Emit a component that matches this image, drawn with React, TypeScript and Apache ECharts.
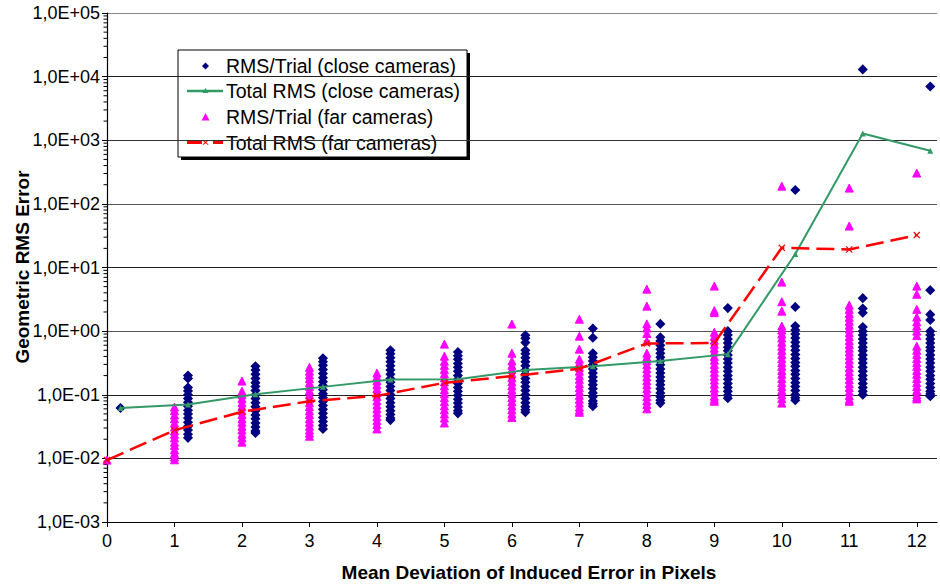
import { useEffect, useRef } from "react";
import * as echarts from "echarts";

// Mean deviation of the induced error (pixels)
const deviations = [0, 1, 2, 3, 4, 5, 6, 7, 8, 9, 10, 11, 12];
// close-camera results are plotted slightly to the right of each deviation
const closeOffset = 0.2;

// RMS error of every trial, close cameras (one list per deviation)
const closeTrials: number[][] = [
  [0.062],
  [0.2, 0.18, 0.13, 0.115, 0.1, 0.087, 0.076, 0.066, 0.057, 0.05, 0.043, 0.037, 0.032, 0.028, 0.024, 0.021],
  [0.28, 0.245, 0.21, 0.18, 0.155, 0.135, 0.117, 0.1, 0.087, 0.075, 0.065, 0.056, 0.048, 0.042, 0.036, 0.031, 0.027, 0.025],
  [0.375, 0.33, 0.29, 0.25, 0.215, 0.185, 0.16, 0.14, 0.12, 0.104, 0.09, 0.078, 0.068, 0.059, 0.051, 0.044, 0.038, 0.033, 0.029],
  [0.5, 0.44, 0.38, 0.33, 0.285, 0.245, 0.21, 0.18, 0.157, 0.135, 0.117, 0.1, 0.087, 0.075, 0.065, 0.056, 0.049, 0.043, 0.04],
  [0.47, 0.41, 0.36, 0.31, 0.27, 0.235, 0.2, 0.175, 0.15, 0.13, 0.113, 0.098, 0.085, 0.074, 0.064, 0.056, 0.051],
  [0.86, 0.77, 0.66, 0.5, 0.44, 0.38, 0.33, 0.285, 0.245, 0.21, 0.18, 0.157, 0.135, 0.117, 0.1, 0.087, 0.075, 0.065, 0.058, 0.053],
  [1.1, 0.785, 0.45, 0.39, 0.34, 0.295, 0.255, 0.22, 0.19, 0.165, 0.143, 0.124, 0.107, 0.093, 0.08, 0.072, 0.066],
  [1.3, 0.8, 0.7, 0.6, 0.52, 0.45, 0.39, 0.34, 0.295, 0.255, 0.22, 0.19, 0.165, 0.143, 0.124, 0.107, 0.093, 0.082, 0.074],
  [2.3, 1.0, 0.87, 0.75, 0.65, 0.56, 0.49, 0.42, 0.365, 0.315, 0.27, 0.235, 0.2, 0.175, 0.15, 0.13, 0.113, 0.098, 0.088],
  [165, 2.4, 1.2, 1.04, 0.9, 0.78, 0.67, 0.58, 0.5, 0.43, 0.37, 0.32, 0.28, 0.24, 0.21, 0.18, 0.155, 0.135, 0.117, 0.1, 0.09, 0.082],
  [13000, 3.3, 2.27, 1.94, 1.16, 1.0, 0.87, 0.75, 0.65, 0.56, 0.49, 0.42, 0.365, 0.315, 0.27, 0.235, 0.2, 0.175, 0.15, 0.13, 0.113, 0.1],
  [7000, 4.4, 1.83, 1.5, 1.0, 0.87, 0.75, 0.65, 0.56, 0.49, 0.42, 0.365, 0.315, 0.27, 0.235, 0.2, 0.175, 0.15, 0.13, 0.113, 0.103, 0.095],
];

// RMS error of every trial, far cameras
const farTrials: number[][] = [
  [0.0094],
  [0.064, 0.056, 0.048, 0.042, 0.036, 0.031, 0.027, 0.024, 0.021, 0.018, 0.016, 0.0137, 0.012, 0.0105, 0.0095],
  [0.164, 0.114, 0.1, 0.087, 0.075, 0.065, 0.056, 0.049, 0.042, 0.037, 0.032, 0.028, 0.024, 0.021, 0.018],
  [0.27, 0.235, 0.205, 0.18, 0.155, 0.135, 0.117, 0.1, 0.087, 0.075, 0.065, 0.056, 0.049, 0.042, 0.037, 0.032, 0.028, 0.025, 0.0223],
  [0.219, 0.19, 0.165, 0.143, 0.124, 0.107, 0.093, 0.08, 0.069, 0.06, 0.052, 0.045, 0.039, 0.034, 0.029],
  [0.625, 0.404, 0.337, 0.29, 0.25, 0.215, 0.185, 0.16, 0.138, 0.12, 0.104, 0.09, 0.078, 0.067, 0.058, 0.05, 0.043, 0.036],
  [1.29, 0.45, 0.34, 0.29, 0.25, 0.215, 0.185, 0.16, 0.138, 0.12, 0.104, 0.09, 0.078, 0.067, 0.058, 0.05, 0.044],
  [1.54, 0.834, 0.521, 0.363, 0.315, 0.27, 0.235, 0.2, 0.175, 0.15, 0.13, 0.113, 0.098, 0.085, 0.074, 0.064, 0.057, 0.053],
  [4.57, 2.47, 1.3, 1.12, 0.92, 0.7, 0.45, 0.39, 0.34, 0.295, 0.255, 0.22, 0.19, 0.165, 0.143, 0.124, 0.107, 0.093, 0.08, 0.07, 0.06],
  [5.1, 2.1, 1.95, 0.96, 0.83, 0.72, 0.62, 0.54, 0.47, 0.4, 0.35, 0.3, 0.26, 0.225, 0.195, 0.17, 0.147, 0.127, 0.11, 0.095, 0.085, 0.079],
  [190, 5.9, 2.9, 2.06, 1.2, 1.04, 0.9, 0.78, 0.67, 0.58, 0.5, 0.43, 0.37, 0.32, 0.28, 0.24, 0.21, 0.18, 0.155, 0.135, 0.117, 0.1, 0.087, 0.074],
  [177, 44.8, 2.56, 2.2, 1.9, 1.65, 1.43, 1.24, 1.08, 0.94, 0.82, 0.71, 0.62, 0.54, 0.47, 0.41, 0.355, 0.31, 0.265, 0.23, 0.2, 0.173, 0.15, 0.13, 0.112, 0.097, 0.085, 0.079],
  [305, 5.1, 3.8, 2.2, 1.66, 1.4, 1.2, 1.0, 0.85, 0.58, 0.5, 0.43, 0.37, 0.32, 0.28, 0.24, 0.21, 0.18, 0.155, 0.135, 0.117, 0.1, 0.092, 0.086],
];

// Total RMS over all trials
const totalRmsClose = [0.062, 0.07, 0.102, 0.133, 0.174, 0.175, 0.244, 0.28, 0.34, 0.435, 16.3, 1280, 684];
const totalRmsFar = [0.0094, 0.0277, 0.054, 0.079, 0.096, 0.154, 0.196, 0.256, 0.64, 0.65, 20.4, 19.2, 32.3];

// y axis decades and their labels
const yTickValues = [1e-3, 1e-2, 1e-1, 1e0, 1e1, 1e2, 1e3, 1e4, 1e5];
const yTickLabels = ["1,0E-03", "1,0E-02", "1,0E-01", "1,0E+00", "1,0E+01", "1,0E+02", "1,0E+03", "1,0E+04", "1,0E+05"];
const yMinorFactors = [2, 3, 4, 5, 6, 7, 8, 9];

const seriesNames = [
  "RMS/Trial (close cameras)",
  "Total RMS (close cameras)",
  "RMS/Trial (far cameras)",
  "Total RMS (far cameras)",
];

const FONT = '"Liberation Sans", Arial, Helvetica, sans-serif';
const NAVY = "#000080";
const MAGENTA = "#FF00FF";
const GREEN = "#339966";
const RED = "#FF0000";
const CROSS = "path://M0,1.2L1.2,0L5,3.8L8.8,0L10,1.2L6.2,5L10,8.8L8.8,10L5,6.2L1.2,10L0,8.8L3.8,5Z";

export default function App() {
  const ref = useRef<HTMLDivElement>(null);

  useEffect(() => {
    if (!ref.current) return;
    const chart = echarts.init(ref.current, null, { renderer: "svg" });

    const closePoints: number[][] = [];
    closeTrials.forEach((col, i) => col.forEach((v) => closePoints.push([deviations[i] + closeOffset, v])));
    const farPoints: number[][] = [];
    farTrials.forEach((col, i) => col.forEach((v) => farPoints.push([deviations[i], v])));
    const closeLine = totalRmsClose.map((v, i) => [deviations[i] + closeOffset, v]);
    const farLine = totalRmsFar.map((v, i) => [deviations[i], v]);

    // minor ticks of the log axis at 2..9 of each decade
    const yMinor: number[][] = [];
    yTickValues.slice(0, -1).forEach((d) => yMinorFactors.forEach((f) => yMinor.push([0, d * f])));

    const gridLineColors = ["#000", "#222", "#222", "#555", "#222", "#555", "#333", "#222", "#888"];

    // legend box
    const lx = 178, ly = 50, lw = 289, lh = 107;
    const rows = [66, 91, 117, 142.5];
    const mx = 205.5;
    const legendText = (i: number) => ({
      type: "text",
      style: {
        text: seriesNames[i],
        x: 226,
        y: rows[i],
        font: `19.5px ${FONT}`,
        fill: "#000",
        verticalAlign: "middle",
        textVerticalAlign: "middle",
      },
    });

    chart.setOption({
      animation: false,
      backgroundColor: "#fff",
      grid: { left: 107, right: 3, top: 13, bottom: 63, containLabel: false },
      xAxis: {
        type: "value",
        min: 0,
        max: 12.3,
        interval: 1,
        axisLine: { show: true, lineStyle: { color: "#000", width: 1 } },
        axisTick: { show: true, length: 5, inside: false, customValues: deviations, lineStyle: { color: "#000" } },
        axisLabel: {
          customValues: deviations,
          fontFamily: FONT,
          fontSize: 18,
          color: "#000",
          margin: 10,
        },
        splitLine: { show: false },
      },
      yAxis: {
        type: "log",
        logBase: 10,
        min: 1e-3,
        max: 1e5,
        interval: 1,
        axisLine: { show: true, lineStyle: { color: "#000", width: 1.2 } },
        axisTick: { show: true, length: 5, inside: false, lineStyle: { color: "#000" } },
        axisLabel: {
          fontFamily: FONT,
          fontSize: 18,
          color: "#000",
          margin: 7,
          formatter: (v: number) => {
            const i = Math.round(Math.log10(v)) + 3;
            return yTickLabels[i] ?? "";
          },
        },
        splitLine: { show: true, lineStyle: { color: gridLineColors, width: 1 } },
      },
      series: [
        {
          type: "custom",
          data: yMinor,
          clip: false,
          silent: true,
          encode: { x: 0, y: 1 },
          renderItem: (_params: any, api: any) => {
            const p = api.coord([0, api.value(1)]);
            return {
              type: "line",
              shape: { x1: p[0] - 3.5, y1: p[1], x2: p[0], y2: p[1] },
              style: { stroke: "#000", lineWidth: 1 },
            };
          },
          z: 1,
        },
        {
          name: seriesNames[0],
          type: "scatter",
          data: closePoints,
          symbol: "diamond",
          symbolSize: 8,
          itemStyle: { color: NAVY, borderColor: NAVY, borderWidth: 1.5, opacity: 1 },
          z: 2,
        },
        {
          name: seriesNames[2],
          type: "scatter",
          data: farPoints,
          symbol: "triangle",
          symbolSize: 8,
          itemStyle: { color: MAGENTA, borderColor: MAGENTA, borderWidth: 1, opacity: 1 },
          z: 2,
        },
        {
          name: seriesNames[1],
          type: "line",
          data: closeLine,
          symbol: "triangle",
          symbolSize: 6,
          showAllSymbol: true,
          lineStyle: { color: GREEN, width: 2 },
          itemStyle: { color: GREEN },
          z: 3,
        },
        {
          name: seriesNames[3],
          type: "line",
          data: farLine,
          symbol: CROSS,
          symbolSize: 7,
          showAllSymbol: true,
          lineStyle: { color: RED, width: 2.5, type: [18, 7] },
          itemStyle: { color: RED },
          z: 4,
        },
      ],
      graphic: [
        {
          type: "text",
          x: 22,
          y: 267,
          rotation: Math.PI / 2,
          style: {
            text: "Geometric RMS Error",
            font: `bold 19px ${FONT}`,
            fill: "#000",
            align: "center",
            verticalAlign: "middle",
            textAlign: "center",
            textVerticalAlign: "middle",
          },
        },
        {
          type: "text",
          x: 529,
          y: 572,
          style: {
            text: "Mean Deviation of Induced Error in Pixels",
            font: `bold 19px ${FONT}`,
            fill: "#000",
            align: "center",
            verticalAlign: "middle",
            textAlign: "center",
            textVerticalAlign: "middle",
          },
        },
        {
          type: "group",
          z: 100,
          children: [
            { type: "rect", shape: { x: lx + 3, y: ly + 3, width: lw, height: lh }, style: { fill: "#000" } },
            { type: "rect", shape: { x: lx, y: ly, width: lw, height: lh }, style: { fill: "#fff", stroke: "#000", lineWidth: 1 } },
            {
              type: "polygon",
              shape: { points: [[mx, rows[0] - 3.5], [mx + 3.5, rows[0]], [mx, rows[0] + 3.5], [mx - 3.5, rows[0]]] },
              style: { fill: NAVY },
            },
            legendText(0),
            { type: "line", shape: { x1: 187, y1: rows[1], x2: 223, y2: rows[1] }, style: { stroke: GREEN, lineWidth: 2.5 } },
            {
              type: "polygon",
              shape: { points: [[mx, rows[1] - 3], [mx + 3, rows[1] + 2], [mx - 3, rows[1] + 2]] },
              style: { fill: GREEN },
            },
            legendText(1),
            {
              type: "polygon",
              shape: { points: [[mx, rows[2] - 4], [mx + 4, rows[2] + 3.5], [mx - 4, rows[2] + 3.5]] },
              style: { fill: MAGENTA },
            },
            legendText(2),
            { type: "line", shape: { x1: 187, y1: rows[3], x2: 202, y2: rows[3] }, style: { stroke: RED, lineWidth: 3 } },
            { type: "line", shape: { x1: 213, y1: rows[3], x2: 223, y2: rows[3] }, style: { stroke: RED, lineWidth: 3 } },
            {
              type: "polygon",
              shape: {
                points: [
                  [mx - 2.5, rows[3] - 2.5], [mx, rows[3] - 0.8], [mx + 2.5, rows[3] - 2.5], [mx + 3, rows[3] - 2],
                  [mx + 0.8, rows[3]], [mx + 3, rows[3] + 2], [mx + 2.5, rows[3] + 2.5], [mx, rows[3] + 0.8],
                  [mx - 2.5, rows[3] + 2.5], [mx - 3, rows[3] + 2], [mx - 0.8, rows[3]], [mx - 3, rows[3] - 2],
                ],
              },
              style: { fill: RED },
            },
            legendText(3),
          ],
        },
      ],
    });

    return () => chart.dispose();
  }, []);

  return (
    <div
      ref={ref}
      style={{ position: "fixed", left: 0, top: 0, width: 940, height: 585, background: "#fff" }}
    />
  );
}
